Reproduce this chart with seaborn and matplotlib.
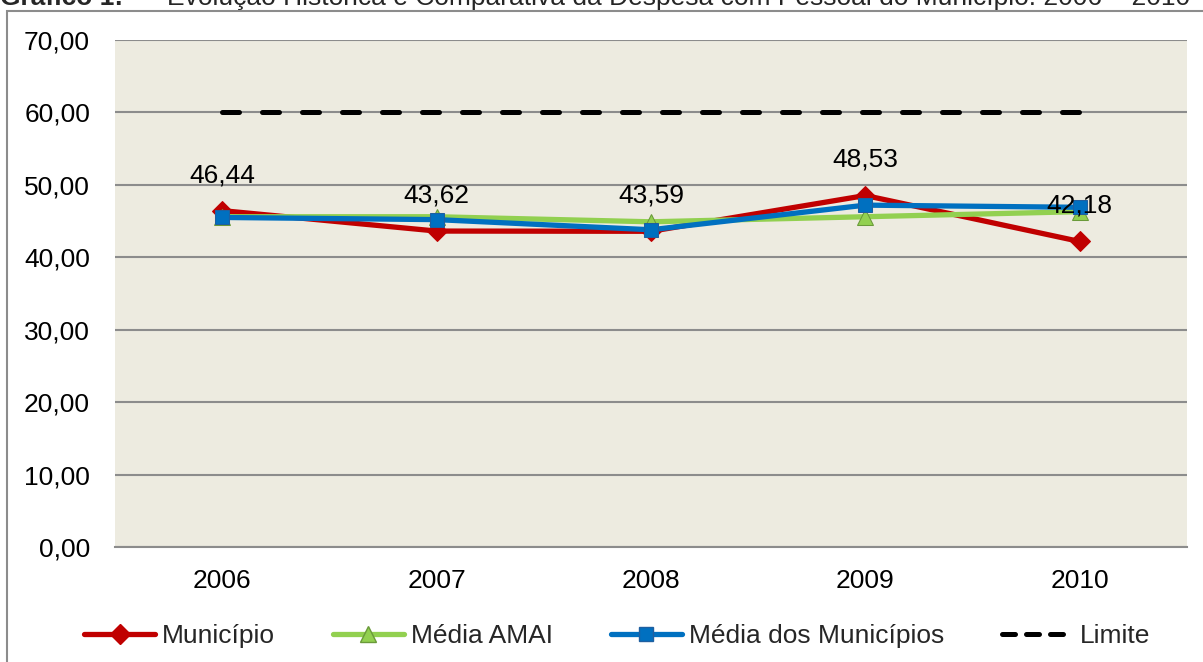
import matplotlib
matplotlib.use("Agg")
import matplotlib.pyplot as plt
import seaborn as sns
import pandas as pd
from matplotlib.patches import Rectangle
from matplotlib.lines import Line2D

years = ["2006", "2007", "2008", "2009", "2010"]
municipio = [46.44, 43.62, 43.59, 48.53, 42.18]
media_amai = [45.6, 45.6, 44.9, 45.6, 46.3]
media_municipios = [45.5, 45.2, 43.8, 47.2, 46.9]
limite = [60, 60, 60, 60, 60]
yticks = [0, 10, 20, 30, 40, 50, 60, 70]

sns.set_theme(style="white")
plt.rcParams['font.family'] = ['Liberation Sans', 'DejaVu Sans']

FS = 19
W, H = 1203, 662
fig = plt.figure(figsize=(W / 100, H / 100), dpi=100)
fig.patch.set_facecolor("white")
ax = fig.add_axes([115 / W, 1 - 547 / H, (1187 - 115) / W, (547 - 40) / H])
ax.set_facecolor("#EDEBE0")

x = list(range(len(years)))
df = pd.DataFrame({"x": x, "Município": municipio, "Média AMAI": media_amai,
                   "Média dos Municípios": media_municipios, "Limite": limite})

DASH = (0, (3.4, 4.6))
sns.lineplot(data=df, x="x", y="Limite", ax=ax, color="black", lw=3.6,
             linestyle=DASH, dash_capstyle="round", legend=False)
sns.lineplot(data=df, x="x", y="Município", ax=ax, color="#C00000", lw=3.8,
             marker="D", markersize=10, markeredgecolor="#C00000", legend=False)
sns.lineplot(data=df, x="x", y="Média AMAI", ax=ax, color="#92D050", lw=3.8,
             marker="^", markersize=11, markerfacecolor="#92D050",
             markeredgecolor="#6A9A3A", legend=False)
sns.lineplot(data=df, x="x", y="Média dos Municípios", ax=ax, color="#0070C0", lw=3.8,
             marker="s", markersize=10, markeredgecolor="#1F5FA0", legend=False)

for xi, v in zip(x, municipio):
    ax.annotate(f"{v:.2f}".replace(".", ","), (xi, v), xytext=(0, 17),
                textcoords="offset points", ha="center", va="bottom", fontsize=FS,
                color="black")

ax.set_xlim(-0.5, 4.5)
ax.set_ylim(0, 70)
ax.set_yticks(yticks)
ax.set_yticklabels([f"{t:.2f}".replace(".", ",") for t in yticks], fontsize=FS,
                   color="black")
ax.set_xticks(x)
ax.set_xticklabels(years, fontsize=FS, color="black")
ax.set_xlabel("")
ax.set_ylabel("")
ax.grid(axis="y", color="#8C8C8C", lw=1.5)
ax.set_axisbelow(True)
for s in ["top", "right", "left"]:
    ax.spines[s].set_visible(False)
ax.spines["bottom"].set_color("#8C8C8C")
ax.spines["bottom"].set_linewidth(1.5)
ax.tick_params(axis="y", length=0, pad=18)
ax.tick_params(axis="x", length=0, pad=16)

# outer chart border
fig.patches.append(Rectangle((7 / W, -0.05), 1.2, 1 - 11 / H + 0.05,
                             transform=fig.transFigure, fill=False,
                             edgecolor="#8C8C8C", lw=1.5))

# title at top (partly outside the picture, as in the reference)
fig.text(0, 1 - 5 / H, "Gráfico 1:",
         fontsize=FS, fontweight="bold", va="baseline", ha="left")
fig.text(167 / W, 1 - 5 / H,
         "Evolução Histórica e Comparativa da Despesa com Pessoal do Município: 2006 – 2010",
         fontsize=FS, va="baseline", ha="left")

handles = [
    Line2D([], [], color="#C00000", lw=3.8, marker="D", markersize=10),
    Line2D([], [], color="#92D050", lw=3.8, marker="^", markersize=11,
           markeredgecolor="#6A9A3A"),
    Line2D([], [], color="#0070C0", lw=3.8, marker="s", markersize=10,
           markeredgecolor="#1F5FA0"),
    Line2D([], [], color="black", lw=3.6, linestyle=(0, (2.6, 2.2)),
           dash_capstyle="round"),
]
labels = ["Município", "Média AMAI", "Média dos Municípios", "Limite"]
fig.legend(handles, labels, loc="center", bbox_to_anchor=(617 / W, 1 - 636 / H),
           ncol=4, frameon=False, fontsize=FS, handlelength=2.7,
           columnspacing=2.2, handletextpad=0.25, borderpad=0, borderaxespad=0)

fig.savefig("out.png", dpi=100)
